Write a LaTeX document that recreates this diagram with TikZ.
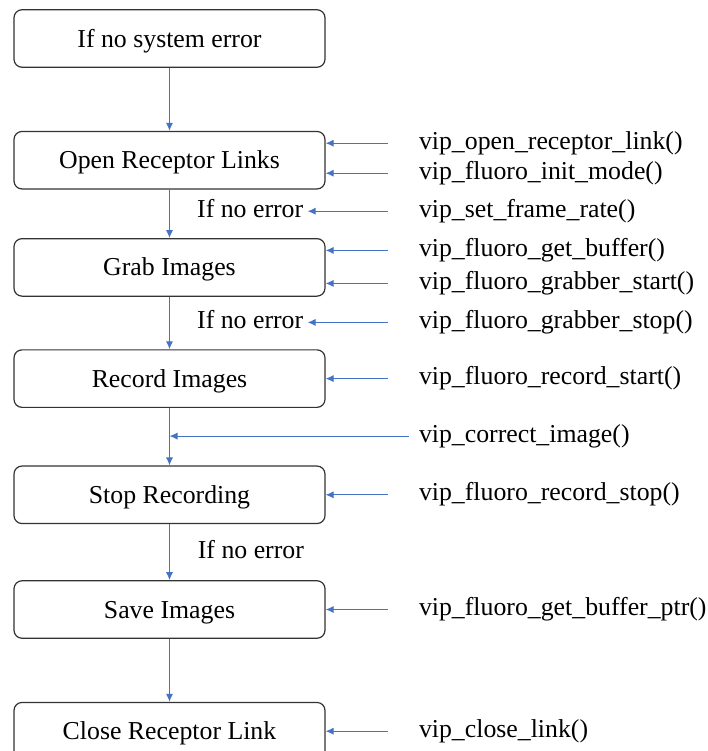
\documentclass[tikz,border=0pt]{standalone}
\usepackage{fontspec}
\newfontfamily\timesfont{Liberation Serif}
\usepackage{tikz}
\usetikzlibrary{arrows.meta, positioning}
\definecolor{linkblue}{RGB}{68,114,196}
\tikzset{
    stage/.style={rectangle, rounded corners=4pt, minimum width=155.5pt, minimum height=28.75pt, inner sep=0pt, text height=9.5pt, text depth=1pt, text centered, draw=black!80, line width=0.6pt},
    call/.style={anchor=west, inner xsep=15.5pt, inner ysep=1pt, text height=9pt, text depth=3pt},
    cond/.style={inner xsep=2pt, inner ysep=1pt, text height=9pt, text depth=3pt},
    arrow/.style={linkblue, line width=0.6pt, -{Latex[length=4pt, width=3.6pt]}},
}

\begin{document}
\begin{tikzpicture}[font=\timesfont\fontsize{12.9}{15}\selectfont]
    \useasboundingbox (0,0) rectangle (354pt,-375.5pt);

    \node [stage] (sys) at (84.75pt,-19.25pt) {If no system error};
    \node [stage, below=31.5pt of sys] (open) {Open Receptor Links};
    \node [stage, below=24.25pt of open] (grab) {Grab Images};
    \node [stage, below=26.25pt of grab] (rec) {Record Images};
    \node [stage, below=28.75pt of rec] (stop) {Stop Recording};
    \node [stage, below=28pt of stop] (save) {Save Images};
    \node [stage, below=31.5pt of save] (close) {Close Receptor Link};

    \node [call, right=31pt of open.east, yshift=8.5pt] (openlink) {vip\_open\_receptor\_link()};
    \node [call, right=31pt of open.east, yshift=-6.5pt] (initmode) {vip\_fluoro\_init\_mode()};
    \node [call, right=31pt of open.east, yshift=-25.5pt] (framerate) {vip\_set\_frame\_rate()};
    \node [call, right=31pt of grab.east, yshift=8.5pt] (getbuf) {vip\_fluoro\_get\_buffer()};
    \node [call, right=31pt of grab.east, yshift=-8pt] (grabstart) {vip\_fluoro\_grabber\_start()};
    \node [call, right=31pt of grab.east, yshift=-27.5pt] (grabstop) {vip\_fluoro\_grabber\_stop()};
    \node [call, right=31pt of rec.east] (recstart) {vip\_fluoro\_record\_start()};
    \node [call, inner xsep=5pt, right=41.5pt of rec.east, yshift=-28.75pt] (correct) {vip\_correct\_image()};
    \node [call, right=31pt of stop.east] (recstop) {vip\_fluoro\_record\_stop()};
    \node [call, right=31pt of save.east] (bufptr) {vip\_fluoro\_get\_buffer\_ptr()};
    \node [call, right=31pt of close.east] (closelink) {vip\_close\_link()};

    \node [cond, left=40pt of framerate.west] (ok1) {If no error};
    \node [cond, left=40pt of grabstop.west] (ok2) {If no error};
    \node [cond, right=12pt of stop.south, yshift=-14.25pt] (ok3) {If no error};

    \draw [arrow] (sys) -- (open);
    \draw [arrow] (open) -- (grab);
    \draw [arrow] (grab) -- (rec);
    \draw [arrow] (rec) -- (stop);
    \draw [arrow] (stop) -- (save);
    \draw [arrow] (save) -- (close);

    \draw [arrow] (openlink.west) -- (openlink.west -| open.east);
    \draw [arrow] (initmode.west) -- (initmode.west -| open.east);
    \draw [arrow] (framerate.west) -- (ok1.east);
    \draw [arrow] (getbuf.west) -- (getbuf.west -| grab.east);
    \draw [arrow] (grabstart.west) -- (grabstart.west -| grab.east);
    \draw [arrow] (grabstop.west) -- (ok2.east);
    \draw [arrow] (recstart.west) -- (recstart.west -| rec.east);
    \draw [arrow] (correct.west) -- (correct.west -| rec.south);
    \draw [arrow] (recstop.west) -- (recstop.west -| stop.east);
    \draw [arrow] (bufptr.west) -- (bufptr.west -| save.east);
    \draw [arrow] (closelink.west) -- (closelink.west -| close.east);
\end{tikzpicture}
\end{document}
